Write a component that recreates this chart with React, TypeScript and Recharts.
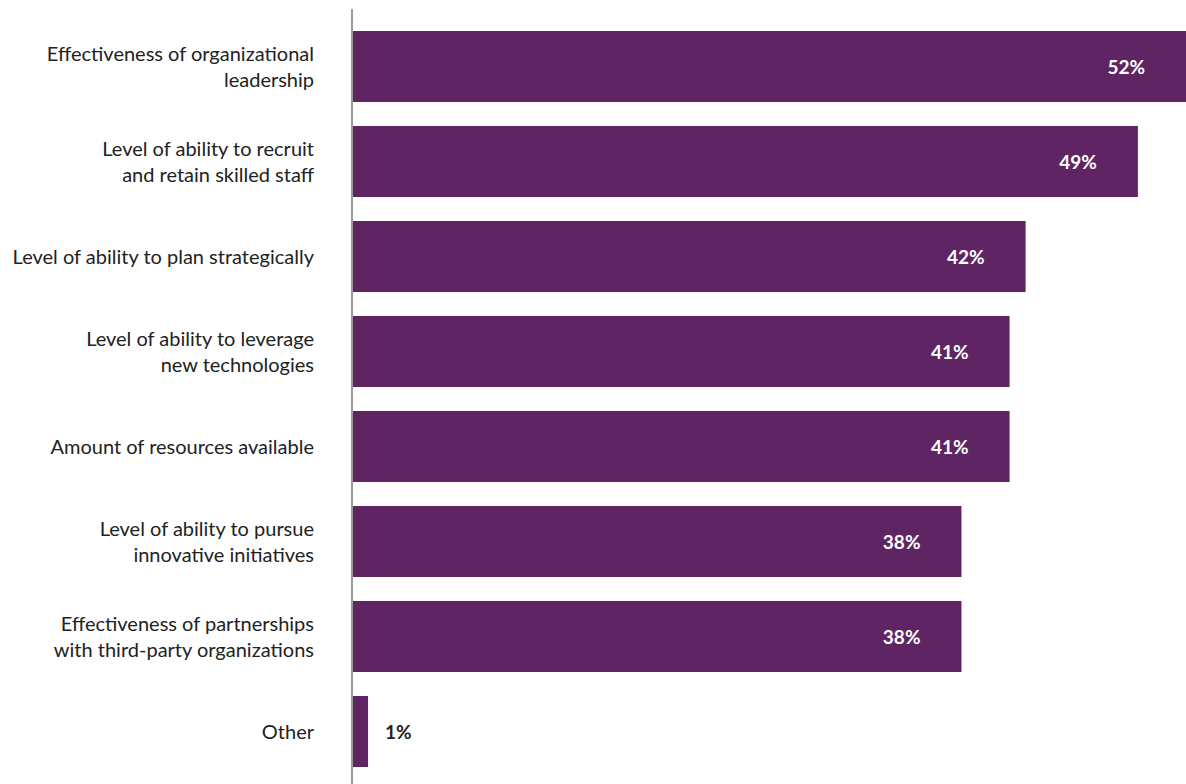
import { BarChart, Bar, XAxis, YAxis, LabelList } from 'recharts'

const categories = [
  'Effectiveness of organizational\nleadership',
  'Level of ability to recruit\nand retain skilled staff',
  'Level of ability to plan strategically',
  'Level of ability to leverage\nnew technologies',
  'Amount of resources available',
  'Level of ability to pursue\ninnovative initiatives',
  'Effectiveness of partnerships\nwith third-party organizations',
  'Other',
]
const values = [52, 49, 42, 41, 41, 38, 38, 1]

const data = categories.map((name, i) => ({ name, value: values[i] }))

const FONT = 'Lato, sans-serif'

function CategoryTick({ x, y, payload }: any) {
  const lines = String(payload.value).split('\n')
  const lh = 26
  const start = -((lines.length - 1) * lh) / 2
  return (
    <text x={x} y={y} textAnchor="end" fill="#222" fontSize={20} fontFamily={FONT}>
      {lines.map((l, i) => (
        <tspan key={i} x={x} dy={i === 0 ? start + 7 : lh}>
          {l}
        </tspan>
      ))}
    </text>
  )
}

function ValueLabel({ x, y, width, height, value }: any) {
  const inside = value >= 5
  return (
    <text
      x={inside ? x + width - 41 : x + width + 17}
      y={y + height / 2 + 7}
      textAnchor={inside ? 'end' : 'start'}
      fill={inside ? '#fff' : '#222'}
      fontSize={19}
      fontWeight={700}
      fontFamily={FONT}
    >
      {value}%
    </text>
  )
}

export default function App() {
  return (
    <div style={{ width: 1186, height: 784, background: '#fff' }}>
      <style>{'body{margin:0}'}</style>
      <BarChart
        width={1186}
        height={784}
        data={data}
        layout="vertical"
        margin={{ top: 9, right: 0, bottom: 0, left: 0 }}
        barSize={71}
      >
        <XAxis type="number" domain={[0, 52]} hide />
        <YAxis
          type="category"
          dataKey="name"
          width={352}
          tickLine={false}
          axisLine={{ stroke: '#999', strokeWidth: 2 }}
          tick={<CategoryTick />}
          tickMargin={32}
          padding={{ top: 10, bottom: 5 }}
        />
        <Bar dataKey="value" fill="#5f2462" isAnimationActive={false}>
          <LabelList dataKey="value" content={<ValueLabel />} />
        </Bar>
      </BarChart>
    </div>
  )
}
